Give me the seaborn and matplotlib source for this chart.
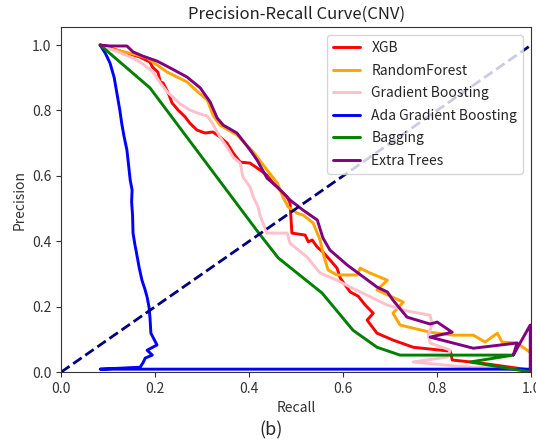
import numpy as np
import pandas as pd
import matplotlib
matplotlib.use("Agg")
import matplotlib.pyplot as plt
import seaborn as sns

# Precision-recall points per model (recall, precision)
xgb_recall = [0.083, 0.168, 0.189, 0.194, 0.206, 0.211, 0.217, 0.228, 0.236, 0.249, 0.264, 0.274,
              0.289, 0.306, 0.323, 0.338, 0.353, 0.366, 0.381, 0.402, 0.423, 0.438, 0.451, 0.466,
              0.481, 0.487, 0.491, 0.519, 0.526, 0.534, 0.545, 0.557, 0.572, 0.587, 0.594, 0.615,
              0.632, 0.647, 0.664, 0.651, 0.672, 0.706, 0.749, 0.828, 0.832, 0.891, 1.000]
xgb_precision = [1.000, 0.963, 0.948, 0.933, 0.917, 0.887, 0.884, 0.853, 0.823, 0.801, 0.780, 0.761,
                 0.740, 0.731, 0.734, 0.719, 0.700, 0.670, 0.642, 0.639, 0.618, 0.602, 0.578, 0.557,
                 0.535, 0.517, 0.425, 0.419, 0.398, 0.404, 0.382, 0.367, 0.343, 0.318, 0.287, 0.245,
                 0.232, 0.205, 0.180, 0.159, 0.119, 0.098, 0.076, 0.064, 0.037, 0.028, 0.006]

rf_recall = [0.083, 0.104, 0.126, 0.162, 0.183, 0.204, 0.226, 0.247, 0.268, 0.289, 0.311, 0.323,
             0.338, 0.374, 0.409, 0.438, 0.460, 0.472, 0.483, 0.502, 0.515, 0.536, 0.551, 0.557,
             0.568, 0.587, 0.630, 0.636, 0.657, 0.694, 0.672, 0.728, 0.706, 0.721, 0.785, 0.834,
             0.877, 0.902, 0.928, 0.938, 0.970, 1.000]
rf_precision = [1.000, 0.988, 0.982, 0.969, 0.960, 0.939, 0.917, 0.902, 0.887, 0.859, 0.832, 0.786,
                0.755, 0.725, 0.673, 0.618, 0.578, 0.535, 0.505, 0.486, 0.480, 0.456, 0.404, 0.364,
                0.312, 0.297, 0.297, 0.318, 0.303, 0.281, 0.251, 0.214, 0.180, 0.144, 0.122, 0.113,
                0.113, 0.092, 0.119, 0.092, 0.089, 0.058]

gb_recall = [0.083, 0.126, 0.153, 0.174, 0.196, 0.211, 0.226, 0.238, 0.253, 0.274, 0.296, 0.311,
             0.323, 0.338, 0.353, 0.366, 0.381, 0.387, 0.402, 0.409, 0.419, 0.423, 0.438, 0.481,
             0.487, 0.523, 0.551, 0.587, 0.615, 0.651, 0.694, 0.736, 0.785, 0.789, 0.781, 0.785,
             0.828, 0.821, 0.749, 0.843, 1.000]
gb_precision = [1.000, 0.976, 0.960, 0.942, 0.917, 0.884, 0.856, 0.841, 0.820, 0.801, 0.789, 0.783,
                0.758, 0.719, 0.688, 0.657, 0.639, 0.596, 0.566, 0.535, 0.505, 0.480, 0.425, 0.425,
                0.394, 0.352, 0.303, 0.281, 0.260, 0.235, 0.205, 0.187, 0.174, 0.147, 0.113, 0.089,
                0.067, 0.046, 0.031, 0.018, 0.006]

ada_recall = [0.083, 0.094, 0.104, 0.113, 0.119, 0.125, 0.129, 0.134, 0.140, 0.143, 0.147, 0.151,
              0.150, 0.152, 0.153, 0.157, 0.162, 0.166, 0.172, 0.178, 0.183, 0.187, 0.189, 0.191,
              0.204, 0.183, 0.194, 0.179, 0.174, 0.168, 0.083, 1.000]
ada_precision = [1.000, 0.975, 0.945, 0.900, 0.850, 0.800, 0.760, 0.720, 0.679, 0.640, 0.587, 0.557,
                 0.520, 0.480, 0.425, 0.390, 0.352, 0.320, 0.281, 0.255, 0.229, 0.199, 0.168, 0.119,
                 0.083, 0.067, 0.052, 0.043, 0.028, 0.015, 0.009, 0.009]

bag_recall = [0.083, 0.189, 0.419, 0.462, 0.555, 0.621, 0.672, 0.721, 0.962, 0.870, 1.000]
bag_precision = [1.000, 0.869, 0.428, 0.349, 0.242, 0.128, 0.076, 0.052, 0.052, 0.031, 0.000]

et_recall = [0.083, 0.104, 0.140, 0.153, 0.174, 0.204, 0.232, 0.268, 0.296, 0.317, 0.332, 0.345,
             0.374, 0.402, 0.417, 0.438, 0.460, 0.487, 0.515, 0.545, 0.557, 0.572, 0.609, 0.643,
             0.672, 0.694, 0.706, 0.736, 0.785, 0.800, 0.832, 0.785, 0.877, 0.970, 0.962, 0.998,
             0.998]
et_precision = [1.000, 0.997, 0.997, 0.979, 0.966, 0.951, 0.930, 0.902, 0.869, 0.826, 0.777, 0.755,
                0.731, 0.679, 0.648, 0.593, 0.566, 0.526, 0.495, 0.465, 0.410, 0.373, 0.327, 0.291,
                0.260, 0.245, 0.220, 0.168, 0.147, 0.153, 0.122, 0.107, 0.073, 0.089, 0.052, 0.144,
                0.006]

model_names = ["XGB", "RandomForest", "Gradient Boosting", "Ada Gradient Boosting",
               "Bagging", "Extra Trees"]
model_colors = ["red", "orange", "pink", "blue", "green", "purple"]
curves = [(xgb_recall, xgb_precision), (rf_recall, rf_precision), (gb_recall, gb_precision),
          (ada_recall, ada_precision), (bag_recall, bag_precision), (et_recall, et_precision)]

frames = []
for name, (rec, prec) in zip(model_names, curves):
    frames.append(pd.DataFrame({"Recall": rec, "Precision": prec, "model": name,
                                "step": np.arange(len(rec))}))
df = pd.concat(frames, ignore_index=True)

sns.set_style("ticks")
plt.rcParams["font.family"] = ["Noto Sans CJK KR", "DejaVu Sans"]
plt.rcParams["axes.unicode_minus"] = False

fig = plt.figure(figsize=(5.36, 4.43), dpi=100)
ax = fig.add_axes([0.114, 0.160, 0.877, 0.779])

sns.lineplot(data=df, x="Recall", y="Precision", hue="model", hue_order=model_names,
             palette=dict(zip(model_names, model_colors)), sort=False, estimator=None,
             units="model", linewidth=2.1, ax=ax)

ax.plot([0, 1], [0, 1], color="navy", linestyle="--", linewidth=2)

ax.set_xlim(0.0, 1.0)
ax.set_ylim(0.0, 1.055)
ax.set_xticks([0.0, 0.2, 0.4, 0.6, 0.8, 1.0])
ax.set_yticks([0.0, 0.2, 0.4, 0.6, 0.8, 1.0])
ax.tick_params(labelsize=10, colors="#333333", labelcolor="#333333")
ax.set_xlabel("Recall", fontsize=10, color="#333333")
ax.set_ylabel("Precision", fontsize=10, color="#333333")
ax.set_title("Precision-Recall Curve(CNV)", fontsize=12, color="#222222")
for side in ["top", "right", "left", "bottom"]:
    ax.spines[side].set_visible(True)
    ax.spines[side].set_color("#333333")

handles, labels = ax.get_legend_handles_labels()
ax.legend(handles, labels, loc="upper right", fontsize=10, framealpha=0.8,
          labelspacing=0.62, borderaxespad=0.6)

fig.text(0.505, 0.029, "(b)", ha="center", va="center", fontsize=13)

fig.savefig("out.png", dpi=100)
